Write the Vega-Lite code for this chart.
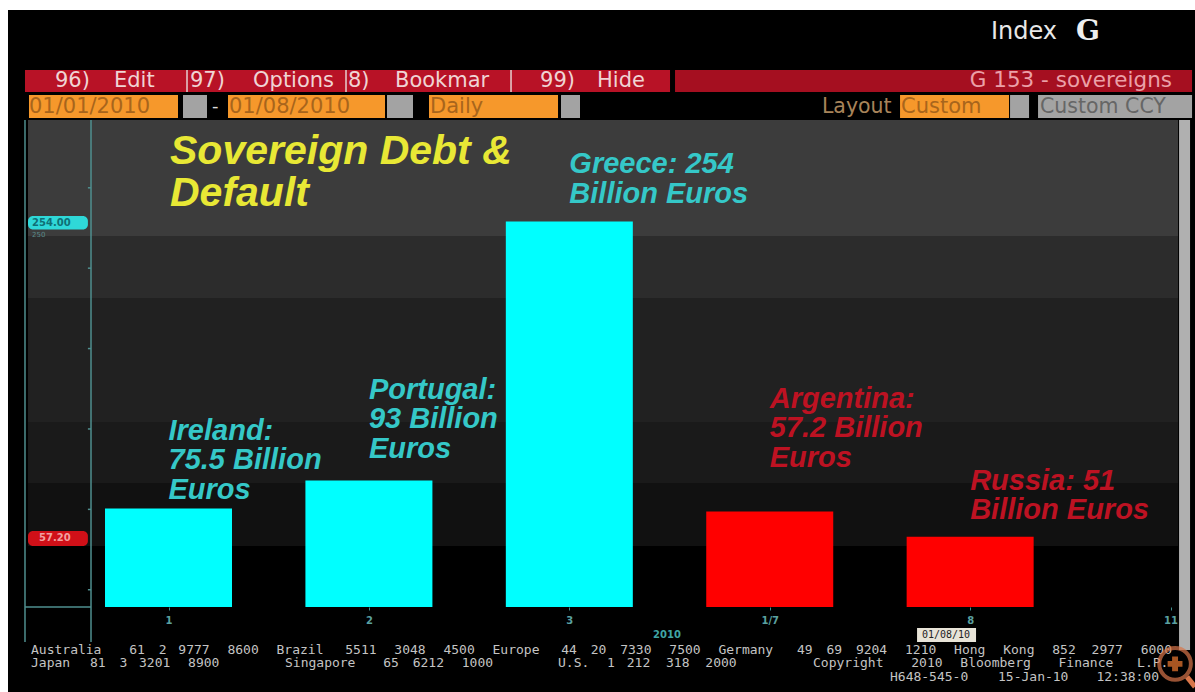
{
"$schema":"https://vega.github.io/schema/vega-lite/v6.json",
"width":1195,"height":692,"autosize":"none","padding":0,"background":"#ffffff",
"config":{"view":{"stroke":null}},
"datasets":{
"bars":[
{"slot":1,"value":75.5,"group":"Eurozone","label":"Ireland:\n75.5 Billion\nEuros","labelLevel":132.7},
{"slot":2,"value":93,"group":"Eurozone","label":"Portugal:\n93 Billion\nEuros","labelLevel":158.2},
{"slot":3,"value":254,"group":"Eurozone","label":"Greece: 254\nBillion Euros","labelLevel":298.2},
{"slot":4,"value":73.6,"group":"Past default","label":"Argentina:\n57.2 Billion\nEuros","labelLevel":152.6},
{"slot":5,"value":58,"group":"Past default","label":"Russia: 51\nBillion Euros","labelLevel":101.6}
],
"panels":[
{"part":"screen","slot":0.1991,"slot2":6.122,"level":385.6,"level2":-38.6},
{"part":"menu","slot":0.2839,"slot2":3.5025,"level":348.3,"level2":334.6},
{"part":"menuDark","slot":3.5274,"slot2":6.1073,"level":348.3,"level2":334.6},
{"part":"input","slot":0.3039,"slot2":1.0474,"level":332.7,"level2":318.4},
{"part":"grey","slot":1.0724,"slot2":1.1921,"level":332.7,"level2":318.4},
{"part":"input","slot":1.2969,"slot2":2.0803,"level":332.7,"level2":318.4},
{"part":"grey","slot":2.0903,"slot2":2.2201,"level":332.7,"level2":318.4},
{"part":"input","slot":2.2999,"slot2":2.9436,"level":332.7,"level2":318.4},
{"part":"grey","slot":2.9586,"slot2":3.0534,"level":332.7,"level2":318.4},
{"part":"input","slot":4.6502,"slot2":5.1941,"level":332.7,"level2":318.4},
{"part":"grey","slot":5.1991,"slot2":5.2939,"level":332.7,"level2":318.4},
{"part":"grey","slot":5.3388,"slot2":6.1073,"level":332.7,"level2":318.4},
{"part":"band1","slot":0.2989,"slot2":6.0374,"level":317.2,"level2":245},
{"part":"band2","slot":0.2989,"slot2":6.0374,"level":245,"level2":206.5},
{"part":"band3","slot":0.2989,"slot2":6.0374,"level":206.5,"level2":129.4},
{"part":"band4","slot":0.2989,"slot2":6.0374,"level":129.4,"level2":91.4},
{"part":"band5","slot":0.2989,"slot2":6.0374,"level":91.4,"level2":52.2},
{"part":"scrollbar","slot":6.0424,"slot2":6.0973,"level":317.2,"level2":-12.4},
{"part":"pill","slot":4.7351,"slot2":5.0294,"level":1.2,"level2":-7.5}
],
"badges":[
{"part":"badgeCyan","slot":0.2989,"slot2":0.5978,"level":257.5,"level2":249},
{"part":"badgeRed","slot":0.2989,"slot2":0.5978,"level":61.6,"level2":52.2}
],
"lines":[
{"slot":0.2839,"slot2":0.2839,"level":317.2,"level2":-7.5},
{"slot":0.6133,"slot2":0.6133,"level":317.2,"level2":-7.5},
{"slot":0.2839,"slot2":0.6133,"level":14.3,"level2":14.3},
{"slot":0.5978,"slot2":0.6133,"level":25,"level2":25},
{"slot":0.5978,"slot2":0.6133,"level":75,"level2":75},
{"slot":0.5978,"slot2":0.6133,"level":125,"level2":125},
{"slot":0.5978,"slot2":0.6133,"level":175,"level2":175},
{"slot":0.5978,"slot2":0.6133,"level":225,"level2":225},
{"slot":0.5978,"slot2":0.6133,"level":275,"level2":275}
],
"separators":[
{"slot":1.0923,"slot2":1.0923,"level":348.3,"level2":334.6},
{"slot":1.8857,"slot2":1.8857,"level":348.3,"level2":334.6},
{"slot":2.7091,"slot2":2.7091,"level":348.3,"level2":334.6}
],
"menuText":[
{"text":"96)","slot":0.4336,"level":341.4},
{"text":"Edit","slot":0.728,"level":341.4},
{"text":"97)","slot":1.1073,"level":341.4},
{"text":"Options","slot":1.4217,"level":341.4},
{"text":"8)","slot":1.8957,"level":341.4},
{"text":"Bookmar","slot":2.1302,"level":341.4},
{"text":"99)","slot":2.8538,"level":341.4},
{"text":"Hide","slot":3.1383,"level":341.4}
],
"inputText":[
{"text":"01/01/2010","slot":0.3039,"level":325.2},
{"text":"01/08/2010","slot":1.3019,"level":325.2},
{"text":"Daily","slot":2.3049,"level":325.2},
{"text":"Custom","slot":4.6552,"level":325.2}
],
"footer":[
{"text":"Australia","slot":0.3139,"level":-12.4},{"text":"61","slot":0.8039,"level":-12.4},{"text":"2","slot":0.9509,"level":-12.4},{"text":"9777","slot":1.0489,"level":-12.4},{"text":"8600","slot":1.2939,"level":-12.4},
{"text":"Brazil","slot":1.5389,"level":-12.4},{"text":"5511","slot":1.8819,"level":-12.4},{"text":"3048","slot":2.1269,"level":-12.4},{"text":"4500","slot":2.3719,"level":-12.4},
{"text":"Europe","slot":2.6169,"level":-12.4},{"text":"44","slot":2.9599,"level":-12.4},{"text":"20","slot":3.1069,"level":-12.4},{"text":"7330","slot":3.2539,"level":-12.4},{"text":"7500","slot":3.4989,"level":-12.4},
{"text":"Germany","slot":3.7439,"level":-12.4},{"text":"49","slot":4.1359,"level":-12.4},{"text":"69","slot":4.2829,"level":-12.4},{"text":"9204","slot":4.4299,"level":-12.4},{"text":"1210","slot":4.6749,"level":-12.4},
{"text":"Hong","slot":4.9199,"level":-12.4},{"text":"Kong","slot":5.1649,"level":-12.4},{"text":"852","slot":5.4099,"level":-12.4},{"text":"2977","slot":5.6059,"level":-12.4},{"text":"6000","slot":5.8509,"level":-12.4},
{"text":"Japan","slot":0.3139,"level":-20.5},{"text":"81","slot":0.6079,"level":-20.5},{"text":"3","slot":0.7549,"level":-20.5},{"text":"3201","slot":0.8529,"level":-20.5},{"text":"8900","slot":1.0979,"level":-20.5},
{"text":"Singapore","slot":1.5813,"level":-20.5},{"text":"65","slot":2.0713,"level":-20.5},{"text":"6212","slot":2.2183,"level":-20.5},{"text":"1000","slot":2.4633,"level":-20.5},
{"text":"U.S.","slot":2.9436,"level":-20.5},{"text":"1","slot":3.1886,"level":-20.5},{"text":"212","slot":3.2866,"level":-20.5},{"text":"318","slot":3.4826,"level":-20.5},{"text":"2000","slot":3.6786,"level":-20.5},
{"text":"Copyright","slot":4.2161,"level":-20.5},{"text":"2010","slot":4.7061,"level":-20.5},{"text":"Bloomberg","slot":4.9511,"level":-20.5},{"text":"Finance","slot":5.4411,"level":-20.5},{"text":"L.P.","slot":5.8331,"level":-20.5},
{"text":"H648-545-0","slot":4.6,"level":-29},{"text":"15-Jan-10","slot":5.139,"level":-29},{"text":"12:38:00","slot":5.63,"level":-29}
]
},
"encoding":{
"x":{"field":"slot","type":"quantitative","title":null,"scale":{"domain":[0.1592,6.122],"padding":0},
"axis":{"values":[1,2,3,4,5,6],"labelExpr":"datum.value==4?'1/7':datum.value==5?'8':datum.value==6?'11':datum.label","offset":-85,"domain":false,"grid":false,"tickColor":"#3f8f8f","tickSize":3,"labelColor":"#5aa0a0","labelFont":"DejaVu Sans","labelFontWeight":"bold","labelFontSize":10,"labelPadding":5,"zindex":1}},
"y":{"field":"level","type":"quantitative","title":null,"scale":{"domain":[-38.6,391.8]},
"axis":{"values":[50,100,150,200,300],"orient":"left","offset":-88,"domain":false,"grid":false,"tickColor":"#8a9a9a","tickSize":10,"labelAlign":"left","labelPadding":45,"labelColor":"#4fa8a8","labelFont":"DejaVu Sans","labelFontWeight":"bold","labelFontSize":9,"zindex":1}}
},
"layer":[
{"data":{"name":"panels"},"mark":{"type":"rect"},"encoding":{
"x2":{"field":"slot2"},"y2":{"field":"level2"},
"color":{"field":"part","type":"nominal","legend":null,"scale":{
"domain":["screen","menu","menuDark","input","grey","band1","band2","band3","band4","band5","scrollbar","badgeCyan","badgeRed","pill","Eurozone","Past default"],
"range":["#000000","#b81226","#a50f20","#f6982b","#a3a3a3","#3c3c3c","#2c2c2c","#212121","#1a1a1a","#111111","#b0b0b0","#2fd8d8","#d01018","#e8e4d8","#00ffff","#ff0000"]}}}},
{"data":{"name":"lines"},"mark":{"type":"rule","color":"#4f8f8f","strokeWidth":1.5},"encoding":{"x2":{"field":"slot2"},"y2":{"field":"level2"}}},
{"data":{"name":"separators"},"mark":{"type":"rule","color":"#e6d0d0","strokeWidth":1.5},"encoding":{"x2":{"field":"slot2"},"y2":{"field":"level2"}}},
{"data":{"name":"badges"},"mark":{"type":"rect","cornerRadius":5},"encoding":{"x2":{"field":"slot2"},"y2":{"field":"level2"},"color":{"field":"part","type":"nominal","legend":null}}},
{"data":{"name":"bars"},"mark":{"type":"bar","size":127},"encoding":{
"y":{"field":"value","type":"quantitative","axis":null},"y2":{"datum":14.3},
"color":{"field":"group","type":"nominal","legend":null}}},
{"data":{"name":"bars"},"transform":[{"filter":"datum.group=='Eurozone'"}],"mark":{"type":"text","align":"left","baseline":"top","font":"Liberation Sans","fontWeight":"bold","fontStyle":"italic","fontSize":29,"lineHeight":29.5,"lineBreak":"\n","color":"#35c8c8"},"encoding":{"y":{"field":"labelLevel","type":"quantitative","axis":null},"text":{"field":"label"}}},
{"data":{"name":"bars"},"transform":[{"filter":"datum.group=='Past default'"}],"mark":{"type":"text","align":"left","baseline":"top","font":"Liberation Sans","fontWeight":"bold","fontStyle":"italic","fontSize":29,"lineHeight":29.5,"lineBreak":"\n","color":"#bd1222"},"encoding":{"y":{"field":"labelLevel","type":"quantitative","axis":null},"text":{"field":"label"}}},
{"data":{"values":[{"slot":1.0075,"level":309.5,"text":"Sovereign Debt &\nDefault"}]},"mark":{"type":"text","align":"left","baseline":"top","font":"Liberation Sans","fontWeight":"bold","fontStyle":"italic","fontSize":41,"lineHeight":42,"lineBreak":"\n","color":"#e8e835"},"encoding":{"text":{"field":"text"}}},
{"data":{"name":"menuText"},"mark":{"type":"text","align":"left","baseline":"middle","font":"DejaVu Sans","fontSize":21,"color":"#f0d4d4"},"encoding":{"text":{"field":"text"}}},
{"data":{"values":[{"slot":6.0075,"level":341.4,"text":"G 153 - sovereigns"}]},"mark":{"type":"text","align":"right","baseline":"middle","font":"DejaVu Sans","fontSize":21.5,"color":"#eba0a8"},"encoding":{"text":{"field":"text"}}},
{"data":{"name":"inputText"},"mark":{"type":"text","align":"left","baseline":"middle","font":"DejaVu Sans","fontSize":21,"color":"#a8651c"},"encoding":{"text":{"field":"text"}}},
{"data":{"values":[{"slot":4.2605,"level":325.2,"text":"Layout"}]},"mark":{"type":"text","align":"left","baseline":"middle","font":"DejaVu Sans","fontSize":20.5,"color":"#a8845a"},"encoding":{"text":{"field":"text"}}},
{"data":{"values":[{"slot":5.3488,"level":325.2,"text":"Custom CCY"}]},"mark":{"type":"text","align":"left","baseline":"middle","font":"DejaVu Sans","fontSize":20.5,"color":"#666666"},"encoding":{"text":{"field":"text"}}},
{"data":{"values":[{"slot":1.2171,"level":325.2,"text":"-"}]},"mark":{"type":"text","align":"left","baseline":"middle","font":"DejaVu Sans","fontSize":18,"color":"#dddddd"},"encoding":{"text":{"field":"text"}}},
{"data":{"values":[{"slot":5.1038,"level":371.9,"text":"Index"}]},"mark":{"type":"text","align":"left","baseline":"middle","font":"DejaVu Sans","fontSize":24,"color":"#e8e8e8"},"encoding":{"text":{"field":"text"}}},
{"data":{"values":[{"slot":5.5287,"level":371.9,"text":"G"}]},"mark":{"type":"text","align":"left","baseline":"middle","font":"DejaVu Serif","fontWeight":"bold","fontSize":28,"color":"#eeeeee"},"encoding":{"text":{"field":"text"}}},
{"data":{"values":[{"slot":0.3189,"level":253.1,"text":"254.00"}]},"mark":{"type":"text","align":"left","baseline":"middle","font":"DejaVu Sans","fontWeight":"bold","fontSize":10,"color":"#0f6f75"},"encoding":{"text":{"field":"text"}}},
{"data":{"values":[{"slot":0.3539,"level":57.2,"text":"57.20"}]},"mark":{"type":"text","align":"left","baseline":"middle","font":"DejaVu Sans","fontWeight":"bold","fontSize":10,"color":"#f0a0a0"},"encoding":{"text":{"field":"text"}}},
{"data":{"values":[{"slot":0.3189,"level":245.5,"text":"250"}]},"mark":{"type":"text","align":"left","baseline":"middle","font":"DejaVu Sans","fontSize":7,"color":"#5a8a8a"},"encoding":{"text":{"field":"text"}}},
{"data":{"values":[{"slot":3.4177,"level":-3.1,"text":"2010"}]},"mark":{"type":"text","align":"left","baseline":"middle","font":"DejaVu Sans","fontWeight":"bold","fontSize":10,"color":"#3fa5a5"},"encoding":{"text":{"field":"text"}}},
{"data":{"values":[{"slot":4.8797,"level":-3.1,"text":"01/08/10"}]},"mark":{"type":"text","align":"center","baseline":"middle","font":"DejaVu Sans Mono","fontSize":10,"color":"#222222"},"encoding":{"text":{"field":"text"}}},
{"data":{"name":"footer"},"mark":{"type":"text","align":"left","baseline":"middle","font":"DejaVu Sans Mono","fontSize":13,"color":"#c4c4c4"},"encoding":{"text":{"field":"text"}}},
{"data":{"values":[{"slot":6.0225,"level":-21.1}]},"mark":{"type":"point","shape":"circle","size":1000,"filled":false,"strokeWidth":4,"color":"#d9764a"}},
{"data":{"values":[{"slot":6.0225,"level":-21.1}]},"mark":{"type":"point","shape":"cross","size":220,"filled":true,"color":"#f07a30"}},
{"data":{"values":[{"slot":6.0823,"level":-29.2,"slot2":6.122,"level2":-35.4}]},"mark":{"type":"rule","strokeWidth":5,"color":"#d9764a"},"encoding":{"x2":{"field":"slot2"},"y2":{"field":"level2"}}}
]
}
